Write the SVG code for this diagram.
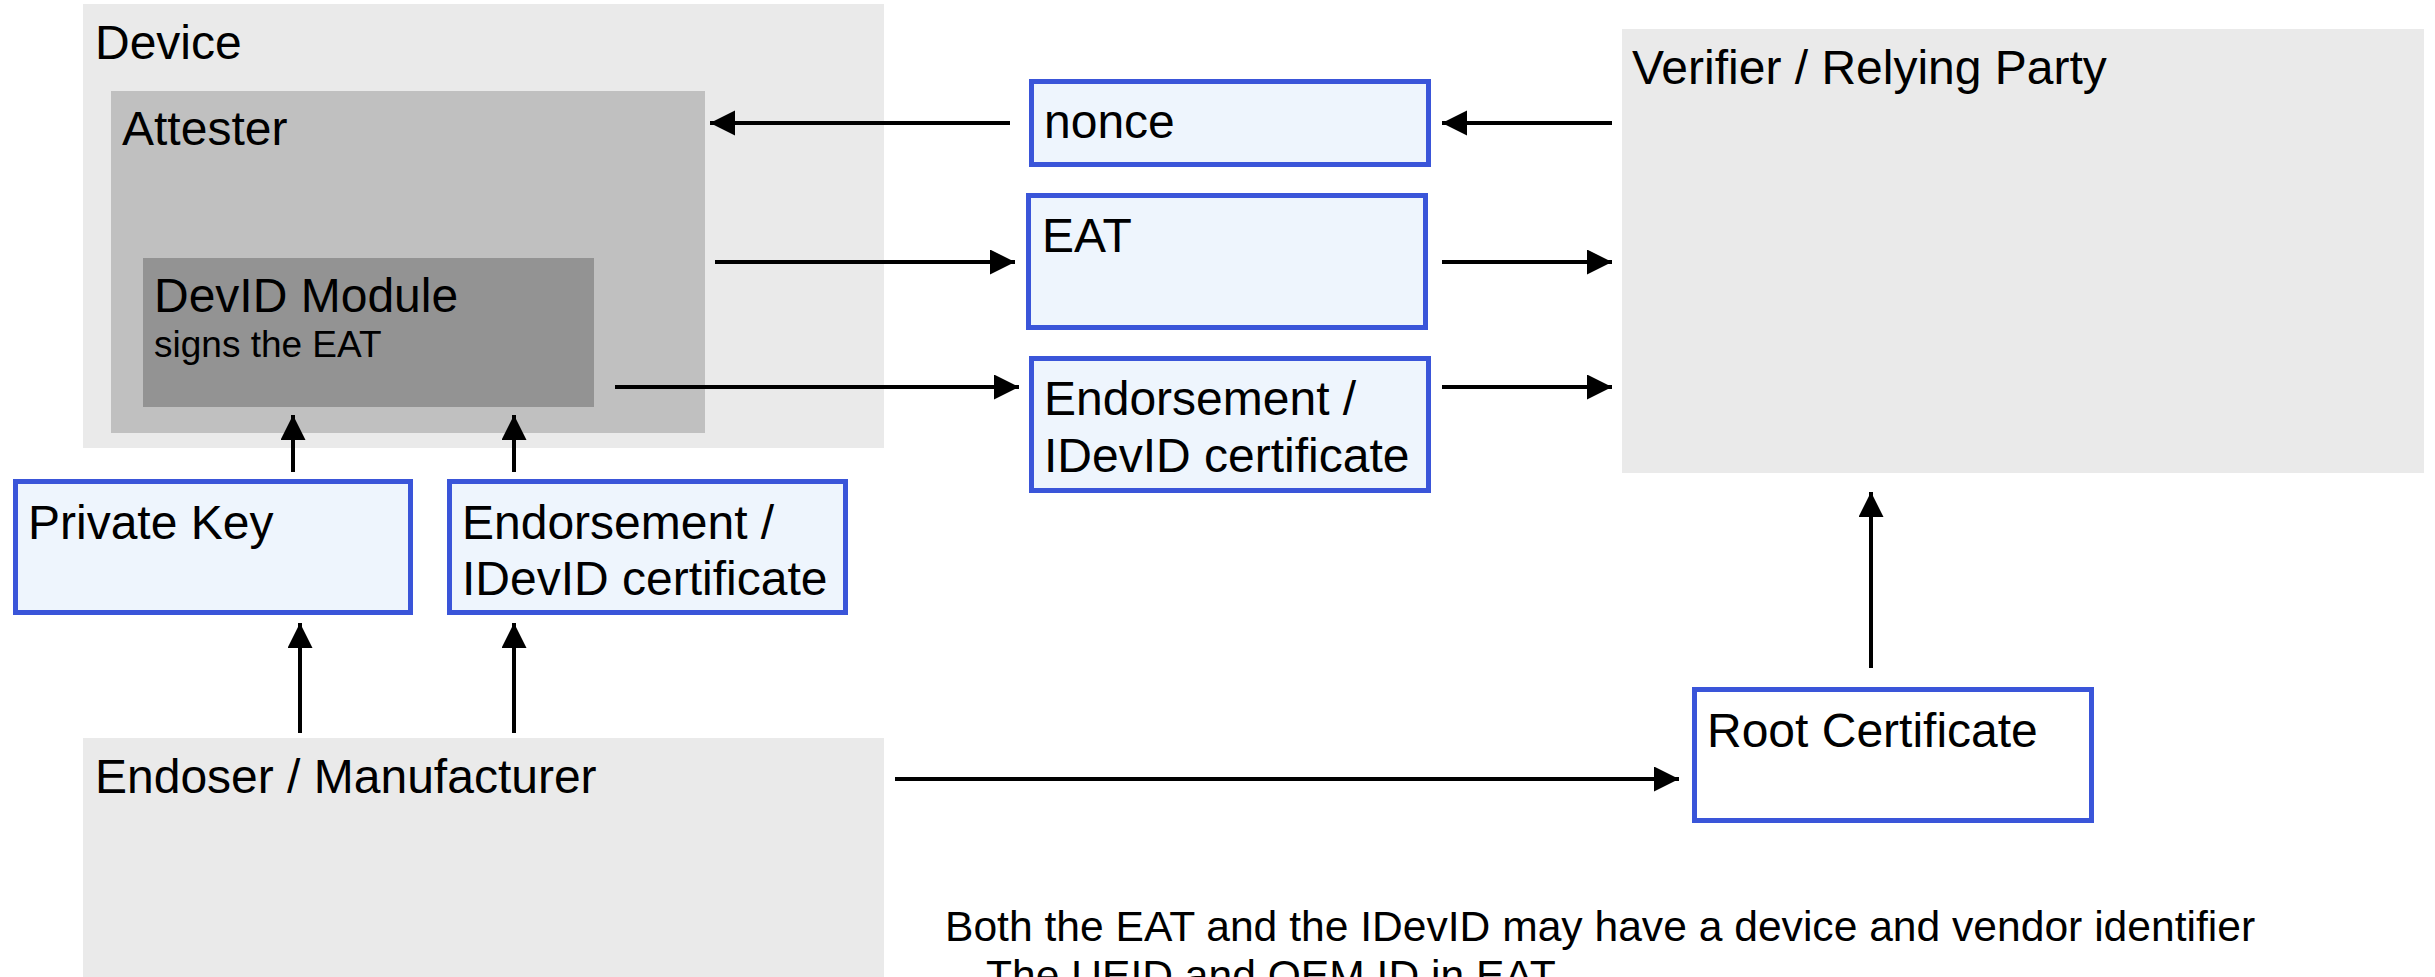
<svg xmlns="http://www.w3.org/2000/svg" width="2435" height="977" viewBox="0 0 2435 977">
  <style>
    text { font-family: "Liberation Sans", Arial, sans-serif; fill: #000; }
    .lbl { font-size: 48px; }
    .sub { font-size: 37px; }
    .note { font-size: 42.6px; }
    .zone { fill: #eaeaea; }
    .attester { fill: #c0c0c0; }
    .module { fill: #939393; }
    .item { fill: #eef5fd; stroke: #3a55d9; stroke-width: 5; }
    .item.plain { fill: #ffffff; }
    .conn { stroke: #000; stroke-width: 4; fill: none; marker-end: url(#head); }
  </style>
  <defs>
    <marker id="head" markerUnits="userSpaceOnUse" markerWidth="26" markerHeight="26" refX="25" refY="12.5" orient="auto">
      <path d="M0,0 L25,12.5 L0,25 Z" fill="#000"/>
    </marker>
  </defs>

  <rect width="2435" height="977" fill="#ffffff"/>

  <!-- device side -->
  <g id="device">
    <rect class="zone" x="83" y="4" width="801" height="444"/>
    <text class="lbl" x="95" y="59">Device</text>
  </g>
  <g id="attester">
    <rect class="attester" x="111" y="91" width="594" height="342"/>
    <text class="lbl" x="122" y="145">Attester</text>
  </g>
  <g id="devid-module">
    <rect class="module" x="143" y="258" width="451" height="149"/>
    <text class="lbl" x="154" y="312">DevID Module</text>
    <text class="sub" x="154" y="357">signs the EAT</text>
  </g>

  <g id="private-key">
    <rect class="item" x="15.5" y="481.5" width="395" height="131"/>
    <text class="lbl" x="28" y="539">Private Key</text>
  </g>
  <g id="device-cert">
    <rect class="item" x="449.5" y="481.5" width="396" height="131"/>
    <text class="lbl" x="462" y="539">Endorsement /</text>
    <text class="lbl" x="462" y="595">IDevID certificate</text>
  </g>

  <g id="endorser">
    <rect class="zone" x="83" y="738" width="801" height="250"/>
    <text class="lbl" x="95" y="793">Endoser / Manufacturer</text>
  </g>

  <!-- exchanged items -->
  <g id="nonce">
    <rect class="item" x="1031.5" y="81.5" width="397" height="83"/>
    <text class="lbl" x="1044" y="138">nonce</text>
  </g>
  <g id="eat">
    <rect class="item" x="1028.5" y="195.5" width="397" height="132"/>
    <text class="lbl" x="1042" y="252">EAT</text>
  </g>
  <g id="sent-cert">
    <rect class="item" x="1031.5" y="358.5" width="397" height="132"/>
    <text class="lbl" x="1044" y="415">Endorsement /</text>
    <text class="lbl" x="1044" y="472">IDevID certificate</text>
  </g>

  <!-- verifier side -->
  <g id="verifier">
    <rect class="zone" x="1622" y="29" width="802" height="444"/>
    <text class="lbl" x="1632" y="84">Verifier / Relying Party</text>
  </g>
  <g id="root-cert">
    <rect class="item plain" x="1694.5" y="689.5" width="397" height="131"/>
    <text class="lbl" x="1707" y="747">Root Certificate</text>
  </g>

  <g id="connectors">
    <line class="conn" x1="1612" y1="123" x2="1442" y2="123"/>
    <line class="conn" x1="1010" y1="123" x2="710" y2="123"/>
    <line class="conn" x1="715" y1="262" x2="1015" y2="262"/>
    <line class="conn" x1="1442" y1="262" x2="1612" y2="262"/>
    <line class="conn" x1="615" y1="387" x2="1019" y2="387"/>
    <line class="conn" x1="1442" y1="387" x2="1612" y2="387"/>
    <line class="conn" x1="293" y1="472" x2="293" y2="415"/>
    <line class="conn" x1="514" y1="472" x2="514" y2="415"/>
    <line class="conn" x1="300" y1="733" x2="300" y2="623"/>
    <line class="conn" x1="514" y1="733" x2="514" y2="623"/>
    <line class="conn" x1="895" y1="779" x2="1679" y2="779"/>
    <line class="conn" x1="1871" y1="668" x2="1871" y2="492"/>
  </g>

  <g id="note">
    <text class="note" x="945" y="941">Both the EAT and the IDevID may have a device and vendor identifier</text>
    <text class="note" x="945" y="990">–</text>
    <text class="note" x="986" y="990">The UEID and OEM ID in EAT</text>
  </g>
</svg>
